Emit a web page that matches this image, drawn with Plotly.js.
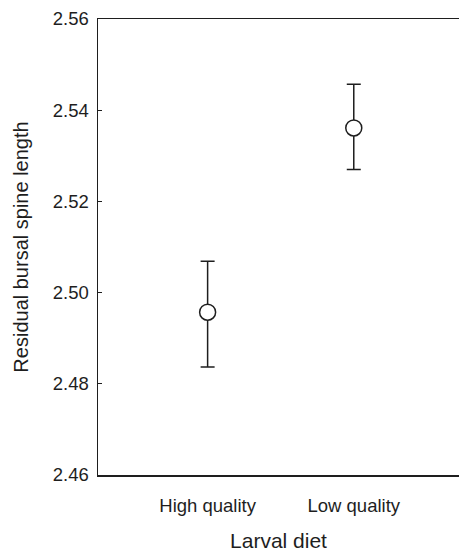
<!DOCTYPE html>
<html>
<head>
<meta charset="utf-8">
<script src="https://cdn.plot.ly/plotly-3.0.1.min.js"></script>
<style>html,body{margin:0;padding:0;background:#fff;}#chart{width:459px;height:552px;}</style>
</head>
<body>
<div id="chart"></div>
<script>
const categories = ["High quality", "Low quality"];
const means = [2.4957, 2.5361];
const errUpper = [0.0112, 0.0096];
const errLower = [0.0120, 0.0091];
const yTickVals = [2.46, 2.48, 2.50, 2.52, 2.54, 2.56];
const yTickText = ["2.46", "2.48", "2.50", "2.52", "2.54", "2.56"];

const ink = "#1e1e1e";
const trace = {
  x: categories,
  y: means,
  type: "scatter",
  mode: "markers",
  marker: {symbol: "circle", size: 16, color: "#ffffff", line: {color: ink, width: 1.5}},
  error_y: {type: "data", symmetric: false, array: errUpper, arrayminus: errLower,
            color: ink, thickness: 1.5, width: 7},
  showlegend: false,
  hoverinfo: "none"
};

const layout = {
  width: 459, height: 552,
  margin: {l: 98, r: 0, t: 19, b: 77},
  paper_bgcolor: "#fff", plot_bgcolor: "#fff",
  font: {family: "Liberation Sans, Arial, sans-serif", color: ink, size: 18},
  xaxis: {
    type: "category", range: [-0.75, 1.72],
    showline: true, linecolor: ink, linewidth: 1.5, mirror: true,
    showgrid: false, zeroline: false, ticks: "",
    tickfont: {size: 18.5}, ticklabelstandoff: 13,
    title: {text: "Larval diet", font: {size: 21}, standoff: 22}
  },
  yaxis: {
    range: [2.46, 2.56],
    tickvals: yTickVals, ticktext: yTickText,
    showline: true, linecolor: ink, linewidth: 1.5,
    showgrid: false, zeroline: false,
    ticks: "inside", ticklen: 4, tickwidth: 1.2, tickcolor: ink,
    tickfont: {size: 18.5}, ticklabelstandoff: 4,
    title: {text: "Residual bursal spine length", font: {size: 20}, standoff: 19}
  }
};

Plotly.newPlot("chart", [trace], layout, {staticPlot: true, displayModeBar: false});
</script>
</body>
</html>
